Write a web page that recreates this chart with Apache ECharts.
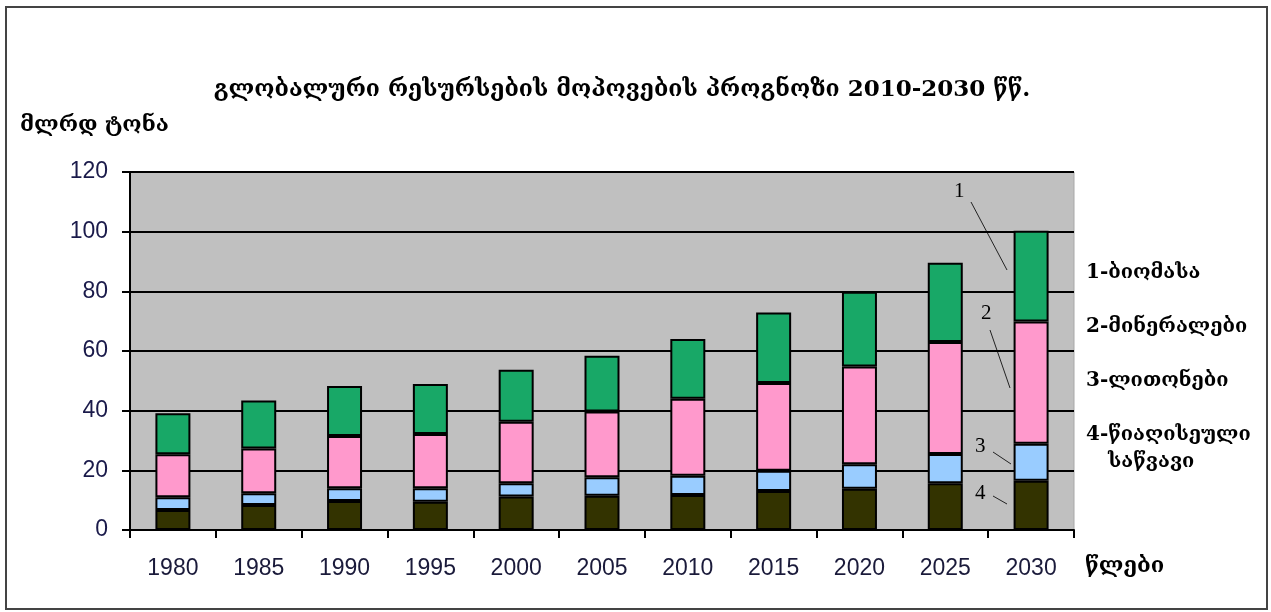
<!DOCTYPE html>
<html>
<head>
<meta charset="utf-8">
<script src="https://cdn.jsdelivr.net/npm/echarts@6/dist/echarts.min.js"></script>
<style>
  html, body { margin: 0; padding: 0; background: #fff; }
  #main { width: 1271px; height: 612px; }
</style>
</head>
<body>
<div id="main"></div>
<script>
var years = ['1980', '1985', '1990', '1995', '2000', '2005', '2010', '2015', '2020', '2025', '2030'];
// stacked from bottom: 4 - fossil fuels, 3 - lithones, 2 - minerals, 1 - biomass
var fuels    = [6.7, 8.4, 9.7, 9.5, 11.2, 11.5, 11.7, 13.1, 13.8, 15.7, 16.5];
var lithones = [4.3, 3.9, 4.3, 4.5, 4.5, 6.2, 6.5, 6.8, 8.2, 9.8, 12.4];
var minerals = [14.4, 15.0, 17.5, 18.2, 20.6, 22.0, 25.8, 29.4, 32.8, 37.5, 41.0];
var biomass  = [13.7, 16.1, 16.8, 16.7, 17.4, 18.7, 20.0, 23.6, 25.1, 26.6, 30.4];
var legendLines = ['1-ბიომასა', '2-მინერალები', '3-ლითონები', '4-წიაღისეული', 'საწვავი'];

var geo = '"DejaVu Serif", "DejaVu Sans", serif';
var myChart = echarts.init(document.getElementById('main'));

function bar(name, data, color) {
    return {
        name: name,
        type: 'bar',
        stack: 'total',
        barWidth: 35,
        data: data,
        itemStyle: { color: color, borderColor: '#000', borderWidth: 2 }
    };
}

function note(txt, x, y) {
    return { type: 'text', left: x, top: y, style: { text: txt, font: '21px "Liberation Serif", serif', fill: '#000' } };
}
function lead(x1, y1, x2, y2) {
    return { type: 'line', shape: { x1: x1, y1: y1, x2: x2, y2: y2 }, style: { stroke: '#222', lineWidth: 1 } };
}
function label(txt, x, y, size) {
    return { type: 'text', left: x, top: y, style: { text: txt, font: 'bold ' + size + 'px ' + geo, fill: '#000' } };
}

option = {
    backgroundColor: '#fff',
    animation: false,
    title: {
        text: 'გლობალური რესურსების მოპოვების პროგნოზი 2010-2030 წწ.',
        left: 617,
        textAlign: 'center',
        top: 74,
        textStyle: { fontFamily: geo, fontWeight: 'bold', fontSize: 23, color: '#000' }
    },
    grid: {
        left: 130, right: 197, top: 172, bottom: 82,
        show: true, backgroundColor: '#c0c0c0', borderColor: '#a8a8a8', borderWidth: 1
    },
    xAxis: {
        type: 'category',
        data: years,
        axisLine: { lineStyle: { color: '#000', width: 2 } },
        axisTick: { show: true, interval: 0, length: 8, lineStyle: { color: '#000', width: 2 } },
        axisLabel: { margin: 27, fontFamily: 'Liberation Sans, Arial, sans-serif', fontSize: 23, color: '#1a1a3a' }
    },
    yAxis: {
        type: 'value',
        min: 0, max: 120, interval: 20,
        axisLine: { show: true, lineStyle: { color: '#000', width: 2 } },
        axisTick: { show: true, length: 8, lineStyle: { color: '#000', width: 2 } },
        axisLabel: { margin: 22, fontFamily: 'Liberation Sans, Arial, sans-serif', fontSize: 23, color: '#1a1a4a' },
        splitLine: { lineStyle: { color: '#000', width: 2 } }
    },
    series: [
        bar('4', fuels, '#333300'),
        bar('3', lithones, '#99ccff'),
        bar('2', minerals, '#ff99cc'),
        bar('1', biomass, '#18a867')
    ],
    graphic: [
        { type: 'rect', shape: { x: 6, y: 7, width: 1261, height: 602 }, style: { fill: null, stroke: '#444', lineWidth: 2 }, silent: true },
        label('მლრდ ტონა', 20, 114, 22),
        label(legendLines[0], 1086, 263, 20),
        label(legendLines[1], 1086, 317, 20),
        label(legendLines[2], 1086, 371, 20),
        label(legendLines[3], 1086, 425, 20),
        label(legendLines[4], 1108, 452, 20),
        label('წლები', 1085, 555, 22),
        note('1', 954, 181), lead(971, 202, 1007, 270),
        note('2', 981, 303), lead(990, 330, 1010, 388),
        note('3', 975, 436), lead(993, 452, 1011, 464),
        note('4', 975, 483), lead(993, 496, 1007, 504)
    ]
};

myChart.setOption(option);
</script>
</body>
</html>
